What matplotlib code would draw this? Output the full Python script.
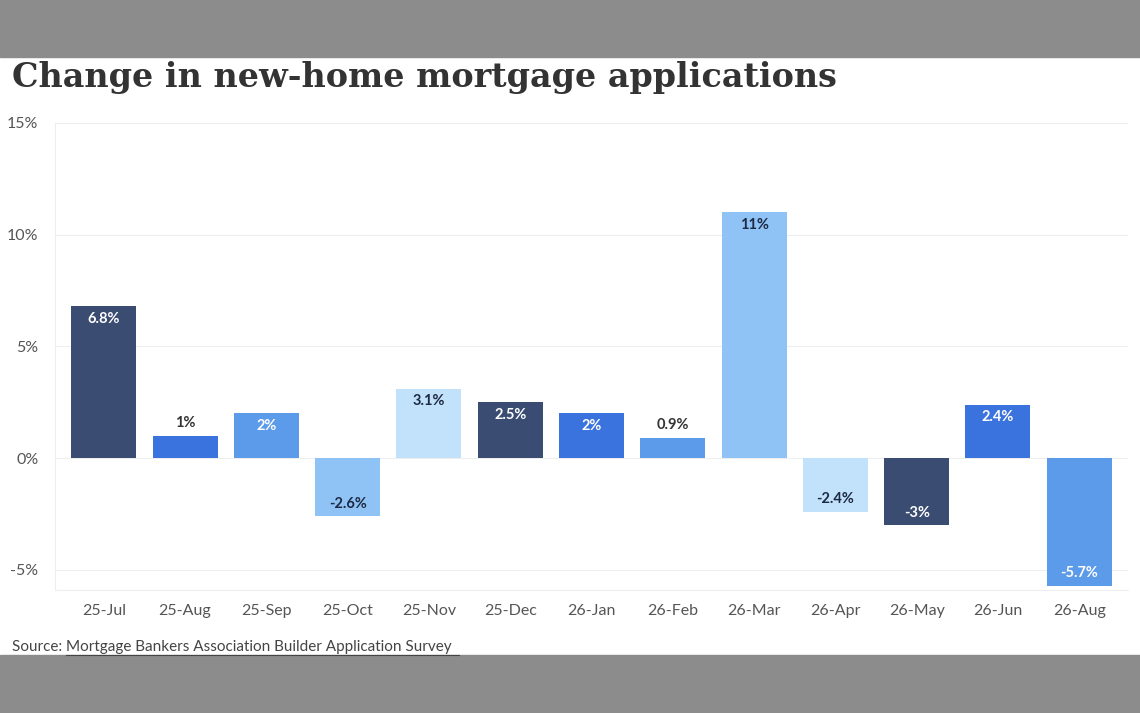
import matplotlib.pyplot as plt
from matplotlib.patches import Rectangle
import numpy as np

# data
months = ['25-Jul', '25-Aug', '25-Sep', '25-Oct', '25-Nov', '25-Dec', '26-Jan',
          '26-Feb', '26-Mar', '26-Apr', '26-May', '26-Jun', '26-Aug']
values = [6.8, 1, 2, -2.6, 3.1, 2.5, 2, 0.9, 11, -2.4, -3, 2.4, -5.7]
labels = ['6.8%', '1%', '2%', '-2.6%', '3.1%', '2.5%', '2%', '0.9%', '11%',
          '-2.4%', '-3%', '2.4%', '-5.7%']

palette = ['#3b4c72', '#3a73de', '#5c9be9', '#8fc3f5', '#c2e2fb']
txt_col = ['white', 'white', 'white', '#1e2a44', '#1e2a44']

plt.rcParams['font.family'] = ['Lato', 'DejaVu Sans']
fig = plt.figure(figsize=(11.4, 7.13), dpi=100)

# blurred photo bands top and bottom
fig.patches.append(Rectangle((0, 1 - 57/713), 1, 57/713, transform=fig.transFigure, color='#8c8c8c', zorder=0))
fig.patches.append(Rectangle((0, 0), 1, 58/713, transform=fig.transFigure, color='#8c8c8c', zorder=0))

ax = fig.add_axes([55/1140, 123/713, 1073/1140, 467/713])
x = np.arange(len(values))
cols = [palette[i % 5] for i in range(len(values))]
ax.bar(x, values, width=0.8, color=cols, zorder=2)

for i, v in enumerate(values):
    c = txt_col[i % 5]
    if abs(v) < 1.5:
        ax.text(i, v + 0.25, labels[i], ha='center', va='bottom', fontsize=10.5, fontweight='bold', color='#333333')
    elif v > 0:
        ax.text(i, v - 0.25, labels[i], ha='center', va='top', fontsize=10.5, fontweight='bold', color=c)
    else:
        ax.text(i, v + 0.25, labels[i], ha='center', va='bottom', fontsize=10.5, fontweight='bold', color=c)

ax.set_xlim(-0.6, len(values) - 0.4)
ax.set_ylim(-5.9, 15)
ax.set_yticks([-5, 0, 5, 10, 15])
ax.set_yticklabels(['-5%', '0%', '5%', '10%', '15%'])
ax.set_xticks(x)
ax.set_xticklabels(months)
ax.tick_params(axis='both', length=0, labelsize=11.5, labelcolor='#555555')
ax.tick_params(axis='y', pad=12)
ax.tick_params(axis='x', pad=10)
ax.grid(axis='y', color='#eeeeee', lw=0.8, zorder=0)
for s in ['top', 'right']:
    ax.spines[s].set_visible(False)
ax.spines['left'].set_color('#eeeeee')
ax.spines['bottom'].set_color('#eeeeee')

fig.text(12/1140, 1 - 78/713, 'Change in new-home mortgage applications', fontsize=24, fontweight='bold',
         family='DejaVu Serif', color='#333333', va='center')
fig.text(12/1140, 1 - 647/713, 'Source: ', fontsize=11, color='#444444', va='center')
fig.text(66/1140, 1 - 647/713, 'Mortgage Bankers Association Builder Application Survey', fontsize=11,
         color='#444444', va='center')
fig.add_artist(plt.Line2D([66/1140, 459/1140], [1 - 655/713] * 2, color='#444444', lw=0.8))

fig.savefig('out.png', dpi=100)
